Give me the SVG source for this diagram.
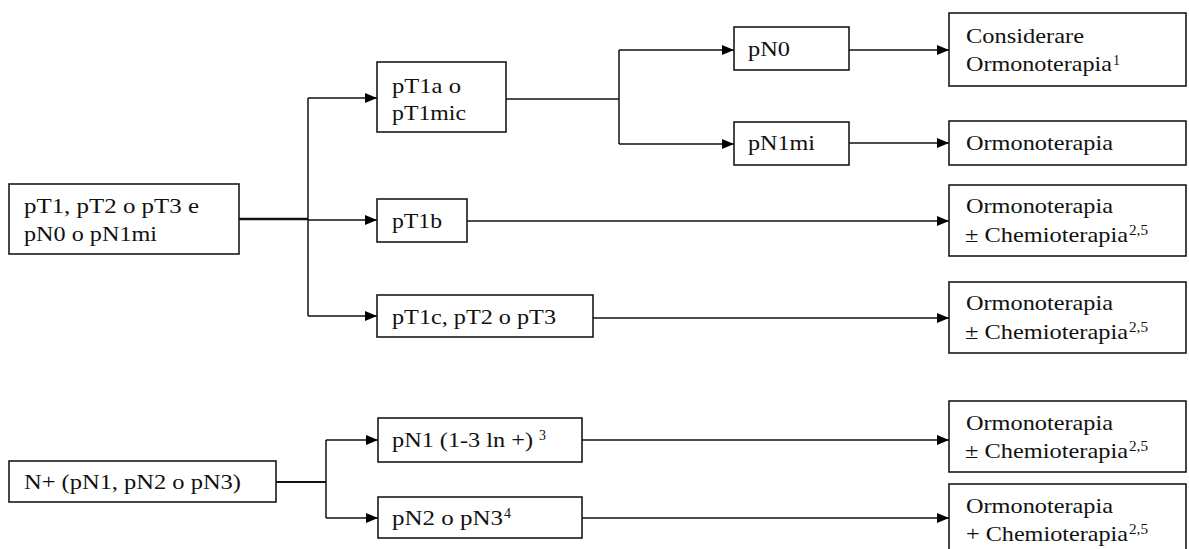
<svg xmlns="http://www.w3.org/2000/svg" width="1189" height="549" viewBox="0 0 1189 549">
<style>
.box{fill:#fff;stroke:#1a1a1a;stroke-width:1.6}
.t{font-family:"Liberation Serif","Times New Roman",serif;font-size:21px;fill:#111}
.s{font-size:14px}
.c{fill:none;stroke:#111;stroke-width:1.5}
.ca{fill:none;stroke:#111;stroke-width:1.5;marker-end:url(#ah)}
</style>
<defs>
<marker id="ah" markerUnits="userSpaceOnUse" markerWidth="13" markerHeight="11" refX="12" refY="5" orient="auto">
<path d="M0,0 L12,5 L0,10 z" fill="#000"/>
</marker>
</defs>
<rect width="1189" height="549" fill="#fff"/>
<g id="connectors">
<line class="c" x1="239" y1="219" x2="308" y2="219" style="stroke-width:2.6"/>
<line class="c" x1="308" y1="98" x2="308" y2="316"/>
<polyline class="ca" points="308,98 377,98"/>
<polyline class="ca" points="308,220 377,220"/>
<polyline class="ca" points="308,316 377,316"/>
<line class="c" x1="506" y1="99" x2="619" y2="99"/>
<line class="c" x1="619" y1="50" x2="619" y2="144"/>
<polyline class="ca" points="619,50 734,50"/>
<polyline class="ca" points="619,144 734,144"/>
<polyline class="ca" points="849,50 949,50"/>
<polyline class="ca" points="849,143 949,143"/>
<polyline class="ca" points="467,221 949,221"/>
<polyline class="ca" points="593,318 949,318"/>
<line class="c" x1="276" y1="482" x2="326" y2="482" style="stroke-width:2"/>
<line class="c" x1="326" y1="440" x2="326" y2="518"/>
<polyline class="ca" points="326,440 378,440"/>
<polyline class="ca" points="326,518 378,518"/>
<polyline class="ca" points="582,440 949,440"/>
<polyline class="ca" points="582,518 949,518"/>
</g>
<g id="n-start1">
<rect class="box" x="9" y="184" width="230" height="70"/>
<text class="t" x="24" y="213" textLength="175" lengthAdjust="spacingAndGlyphs">pT1, pT2 o pT3 e</text>
<text class="t" x="24" y="241" textLength="133" lengthAdjust="spacingAndGlyphs">pN0 o pN1mi</text>
</g>
<g id="n-pt1a">
<rect class="box" x="377" y="62" width="129" height="70"/>
<text class="t" x="392" y="93" textLength="69" lengthAdjust="spacingAndGlyphs">pT1a o</text>
<text class="t" x="392" y="120" textLength="74" lengthAdjust="spacingAndGlyphs">pT1mic</text>
</g>
<g id="n-pt1b">
<rect class="box" x="377" y="199" width="90" height="43"/>
<text class="t" x="392" y="228" textLength="50" lengthAdjust="spacingAndGlyphs">pT1b</text>
</g>
<g id="n-pt1c">
<rect class="box" x="377" y="295" width="216" height="42"/>
<text class="t" x="392" y="324" textLength="164" lengthAdjust="spacingAndGlyphs">pT1c, pT2 o pT3</text>
</g>
<g id="n-pn0">
<rect class="box" x="734" y="27" width="115" height="43"/>
<text class="t" x="748" y="56" textLength="42" lengthAdjust="spacingAndGlyphs">pN0</text>
</g>
<g id="n-pn1mi">
<rect class="box" x="734" y="122" width="115" height="43"/>
<text class="t" x="748" y="150" textLength="67" lengthAdjust="spacingAndGlyphs">pN1mi</text>
</g>
<g id="n-r1">
<rect class="box" x="949" y="13" width="237" height="73"/>
<text class="t" x="966" y="43" textLength="118" lengthAdjust="spacingAndGlyphs">Considerare</text>
<text class="t"><tspan x="966" y="71" textLength="146" lengthAdjust="spacingAndGlyphs">Ormonoterapia</tspan><tspan class="s" x="1113" y="65">1</tspan></text>
</g>
<g id="n-r2">
<rect class="box" x="949" y="121" width="237" height="44"/>
<text class="t" x="966" y="150" textLength="147" lengthAdjust="spacingAndGlyphs">Ormonoterapia</text>
</g>
<g id="n-r3">
<rect class="box" x="949" y="185" width="237" height="71"/>
<text class="t" x="966" y="213" textLength="147" lengthAdjust="spacingAndGlyphs">Ormonoterapia</text>
<text class="t"><tspan x="965" y="242" textLength="163" lengthAdjust="spacingAndGlyphs">± Chemioterapia</tspan><tspan class="s" x="1129" y="235" textLength="19" lengthAdjust="spacingAndGlyphs">2,5</tspan></text>
</g>
<g id="n-r4">
<rect class="box" x="949" y="282" width="237" height="71"/>
<text class="t" x="966" y="310" textLength="147" lengthAdjust="spacingAndGlyphs">Ormonoterapia</text>
<text class="t"><tspan x="965" y="339" textLength="163" lengthAdjust="spacingAndGlyphs">± Chemioterapia</tspan><tspan class="s" x="1129" y="332" textLength="19" lengthAdjust="spacingAndGlyphs">2,5</tspan></text>
</g>
<g id="n-start2">
<rect class="box" x="9" y="461" width="267" height="41"/>
<text class="t" x="24" y="489" textLength="217" lengthAdjust="spacingAndGlyphs">N+ (pN1, pN2 o pN3)</text>
</g>
<g id="n-pn1">
<rect class="box" x="378" y="418" width="204" height="44"/>
<text class="t"><tspan x="392" y="447" textLength="141" lengthAdjust="spacingAndGlyphs">pN1 (1-3 ln +)</tspan><tspan class="s" x="539" y="440">3</tspan></text>
</g>
<g id="n-pn2">
<rect class="box" x="378" y="497" width="204" height="41"/>
<text class="t"><tspan x="392" y="525" textLength="111" lengthAdjust="spacingAndGlyphs">pN2 o pN3</tspan><tspan class="s" x="504" y="518">4</tspan></text>
</g>
<g id="n-r5">
<rect class="box" x="949" y="401" width="237" height="71"/>
<text class="t" x="966" y="430" textLength="147" lengthAdjust="spacingAndGlyphs">Ormonoterapia</text>
<text class="t"><tspan x="965" y="458" textLength="163" lengthAdjust="spacingAndGlyphs">± Chemioterapia</tspan><tspan class="s" x="1129" y="451" textLength="19" lengthAdjust="spacingAndGlyphs">2,5</tspan></text>
</g>
<g id="n-r6">
<rect class="box" x="949" y="484" width="237" height="72"/>
<text class="t" x="966" y="513" textLength="147" lengthAdjust="spacingAndGlyphs">Ormonoterapia</text>
<text class="t"><tspan x="966" y="541" textLength="162" lengthAdjust="spacingAndGlyphs">+ Chemioterapia</tspan><tspan class="s" x="1129" y="534" textLength="19" lengthAdjust="spacingAndGlyphs">2,5</tspan></text>
</g>
</svg>
